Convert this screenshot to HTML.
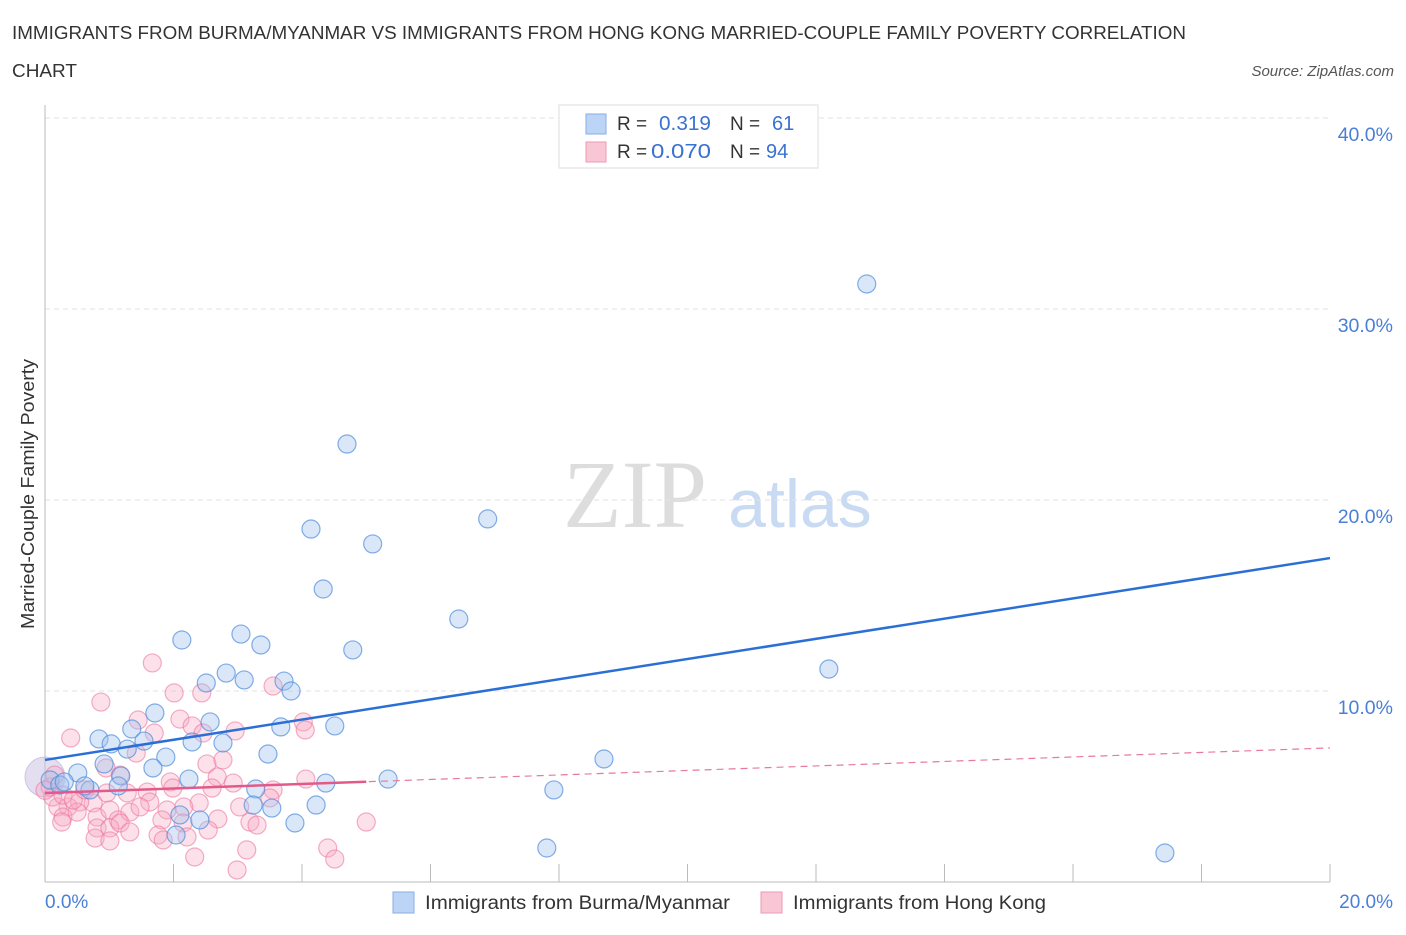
<!DOCTYPE html>
<html><head><meta charset="utf-8"><style>
body{margin:0;background:#fff;font-family:"Liberation Sans",sans-serif}
</style></head><body>
<svg width="1406" height="930" xmlns="http://www.w3.org/2000/svg" style="font-family:'Liberation Sans',sans-serif">
<text x="12" y="39" font-size="18" fill="#333" textLength="1174" lengthAdjust="spacingAndGlyphs">IMMIGRANTS FROM BURMA/MYANMAR VS IMMIGRANTS FROM HONG KONG MARRIED-COUPLE FAMILY POVERTY CORRELATION</text>
<text x="12" y="77" font-size="18" fill="#333" textLength="65" lengthAdjust="spacingAndGlyphs">CHART</text>
<text x="1394" y="76" font-size="15" fill="#555" font-style="italic" text-anchor="end">Source: ZipAtlas.com</text>
<text x="635" y="527" font-size="96" fill="#ddd" font-family="'Liberation Serif',serif" text-anchor="middle">ZIP</text>
<text x="800" y="527" font-size="68" fill="#c9daf3" text-anchor="middle">atlas</text>
<g id="grid"></g>
<g id="axes"></g>
<g id="marks"></g>
<text x="34" y="494" font-size="18" fill="#333" transform="rotate(-90 34 494)" text-anchor="middle" textLength="270" lengthAdjust="spacingAndGlyphs">Married-Couple Family Poverty</text>
<text x="45" y="908" font-size="19" fill="#4a7fd6">0.0%</text>
<text x="1393" y="908" font-size="19" fill="#4a7fd6" text-anchor="end">20.0%</text>
<g>
<rect x="559" y="105" width="259" height="63" fill="#fff" stroke="#ddd"/>
<rect x="586" y="114" width="20" height="20" fill="#bcd4f5" stroke="#86aee8"/>
<rect x="586" y="142" width="20" height="20" fill="#f9c6d5" stroke="#ee9ab5"/>
<text x="617" y="130" font-size="19" fill="#333">R =</text>
<text x="659" y="130" font-size="20" fill="#3a72d0" textLength="52" lengthAdjust="spacingAndGlyphs">0.319</text>
<text x="730" y="130" font-size="19" fill="#333">N =</text>
<text x="772" y="130" font-size="20" fill="#3a72d0">61</text>
<text x="617" y="158" font-size="19" fill="#333">R =</text>
<text x="651" y="158" font-size="20" fill="#3a72d0" textLength="60" lengthAdjust="spacingAndGlyphs">0.070</text>
<text x="730" y="158" font-size="19" fill="#333">N =</text>
<text x="766" y="158" font-size="20" fill="#3a72d0">94</text>
</g>
<g>
<rect x="393" y="892" width="21" height="21" fill="#bcd4f5" stroke="#86aee8"/>
<text x="425" y="909" font-size="19" fill="#333" textLength="305" lengthAdjust="spacingAndGlyphs">Immigrants from Burma/Myanmar</text>
<rect x="761" y="892" width="21" height="21" fill="#f9c6d5" stroke="#ee9ab5"/>
<text x="793" y="909" font-size="19" fill="#333" textLength="253" lengthAdjust="spacingAndGlyphs">Immigrants from Hong Kong</text>
</g>
</svg>
<script>
const yTicks=[10,20,30,40];
const yTickLabels=["10.0%","20.0%","30.0%","40.0%"];
const xTicks=[0,2,4,6,8,10,12,14,16,18,20];
const blueX=[12.79,4.70,6.89,4.14,5.10,4.33,6.44,2.13,3.05,3.36,4.79,12.20,2.82,3.10,2.51,3.72,3.83,1.71,2.57,4.51,3.67,1.35,0.84,1.03,2.29,1.88,2.77,1.54,1.28,3.47,1.68,0.92,1.18,2.24,8.70,5.34,4.37,0.51,0.08,0.23,0.70,3.28,7.92,4.22,2.10,3.24,3.53,3.89,2.41,2.04,7.81,17.43,0.30,0.62,1.14];
const blueY=[31.31,22.93,19.01,18.48,17.70,15.34,13.77,12.67,12.98,12.41,12.15,11.15,10.94,10.58,10.42,10.52,10.00,8.85,8.38,8.17,8.12,8.01,7.49,7.23,7.33,6.54,7.28,7.38,6.96,6.70,5.97,6.18,5.55,5.39,6.44,5.39,5.18,5.71,5.34,5.08,4.82,4.87,4.82,4.03,3.51,4.03,3.87,3.09,3.25,2.46,1.78,1.52,5.24,5.03,5.03];
const pinkX=[1.67,0.87,0.40,2.01,2.44,3.55,2.10,1.45,1.70,2.29,2.46,2.96,4.02,4.05,1.42,0.95,1.17,2.52,2.77,2.68,2.93,1.95,1.99,1.59,2.60,3.55,4.06,3.50,2.40,2.16,1.63,1.28,0.96,0.75,0.54,0.36,0.20,0.28,0.50,0.81,1.01,1.14,1.32,1.48,1.90,1.82,2.15,2.69,3.03,3.19,3.30,5.00,0.81,1.01,1.17,1.32,0.78,1.01,1.76,1.84,2.21,2.54,2.33,3.14,2.99,4.40,4.51,0.08,0.12,0.28,0.44,0.0,0.15,0.62,0.26];
const pinkY=[11.47,9.42,7.54,9.90,9.90,10.26,8.53,8.48,7.80,8.17,7.80,7.91,8.38,7.96,6.75,5.97,5.60,6.18,6.39,5.50,5.18,5.24,4.92,4.71,4.92,4.82,5.39,4.40,4.14,3.93,4.19,4.66,4.66,4.14,4.19,3.93,3.93,3.40,3.66,3.40,3.77,3.25,3.66,3.93,3.77,3.25,3.09,3.30,3.93,3.14,2.98,3.14,2.83,2.83,3.09,2.62,2.30,2.15,2.46,2.20,2.36,2.72,1.31,1.68,0.63,1.78,1.20,4.97,4.45,4.55,4.29,4.80,5.60,4.82,3.14];
const blueTrend=[6.39,16.96];
const pinkTrend=[4.66,7.02];
const pinkSolidEnd=5.0;
const NS="http://www.w3.org/2000/svg";
const X=v=>45+v*64.25, Y=v=>882-v*19.1;
function mk(t,a,p){const e=document.createElementNS(NS,t);for(const k in a)e.setAttribute(k,a[k]);document.getElementById(p).appendChild(e);return e;}
yTicks.forEach((t,i)=>{
 const l=mk('line',{x1:45,x2:1330,y1:Y(t),y2:Y(t),stroke:'#e2e2e2','stroke-dasharray':'5,4'},'grid');
 
 
 const tx=mk('text',{x:1393,y:Y(t)+23,'font-size':19.5,fill:'#4a7fd6','text-anchor':'end'},'grid');
 tx.textContent=yTickLabels[i];
 
 
});
const ax=mk('line',{x1:45,x2:1330,y1:882,y2:882,stroke:'#bbb'},'axes');


const ay=mk('line',{x1:45,x2:45,y1:105,y2:882,stroke:'#bbb'},'axes');


xTicks.forEach(t=>{
 const l=mk('line',{x1:X(t),x2:X(t),y1:864,y2:882,stroke:'#bbb'},'axes');
 
 
});
const big=mk('circle',{cx:X(0),cy:Y(5.5),r:20,fill:'rgba(200,190,225,0.5)',stroke:'rgba(180,170,220,0.6)'},'marks');


pinkX.forEach((x,i)=>{
 const c=mk('circle',{cx:X(x),cy:Y(pinkY[i]),r:9,fill:'rgba(246,170,195,0.35)',stroke:'rgba(236,120,160,0.6)','stroke-width':1.2},'marks');
 
 
});
blueX.forEach((x,i)=>{
 const c=mk('circle',{cx:X(x),cy:Y(blueY[i]),r:9,fill:'rgba(160,195,240,0.4)',stroke:'rgba(80,140,220,0.7)','stroke-width':1.2},'marks');
 
 
});
const bt=mk('line',{x1:X(0),y1:Y(blueTrend[0]),x2:X(20),y2:Y(blueTrend[1]),stroke:'#2a6fd6','stroke-width':2.5},'marks');


const pd=mk('line',{x1:X(0),y1:Y(pinkTrend[0]),x2:X(20),y2:Y(pinkTrend[1]),stroke:'#e8799e','stroke-width':1.2,'stroke-dasharray':'7,5'},'marks');


const py=pinkTrend[0]+(pinkTrend[1]-pinkTrend[0])*pinkSolidEnd/20;
const ps=mk('line',{x1:X(0),y1:Y(pinkTrend[0]),x2:X(pinkSolidEnd),y2:Y(py),stroke:'#e35a8a','stroke-width':2.5},'marks');


</script>
</body></html>
